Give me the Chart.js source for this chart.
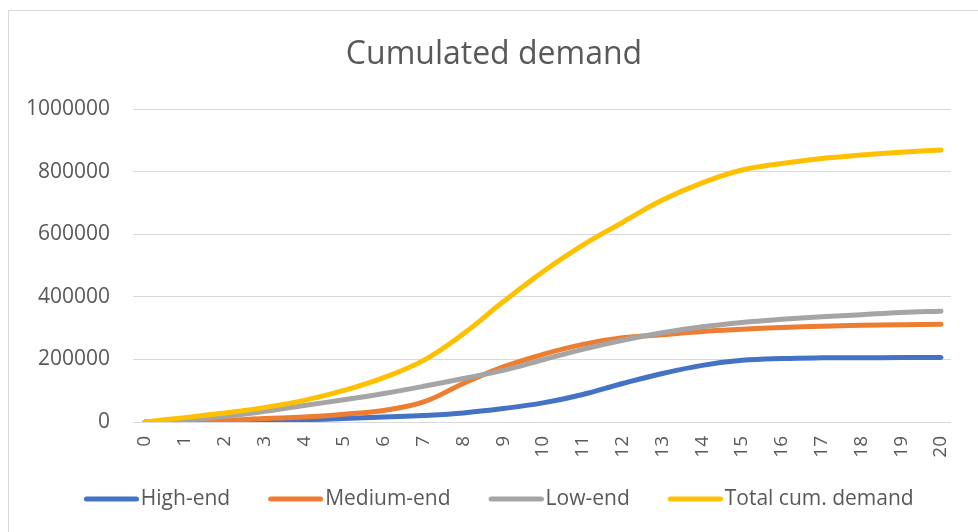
<!DOCTYPE html>
<html>
<head>
<meta charset="utf-8">
<title>Cumulated demand</title>
<script src="https://cdn.jsdelivr.net/npm/chart.js@4.4.1/dist/chart.umd.min.js"></script>
<style>
  body { margin: 0; background: #fff; }
  #frame { position: absolute; left: 8px; top: 10px; width: 990px; height: 540px; border: 1px solid #d9d9d9; }
  #demandChart { position: absolute; left: 0; top: 0; }
</style>
</head>
<body>
<div id="frame"></div>
<canvas id="demandChart" width="978" height="532"></canvas>
<script>
// years since launch (x axis)
const years = [0, 1, 2, 3, 4, 5, 6, 7, 8, 9, 10, 11, 12, 13, 14, 15, 16, 17, 18, 19, 20];

// cumulated units per segment
const highEnd = [0, 1000, 2000, 4000, 7000, 11000, 16000, 21000, 29000, 43000, 61000, 88000, 123000, 155000, 181000, 197000, 203000, 205000, 205000, 206000, 206000];
const mediumEnd = [0, 2000, 5000, 11000, 16000, 25000, 37000, 64000, 123000, 176000, 216000, 248000, 269000, 279000, 289000, 296000, 302000, 306000, 309000, 311000, 312000];
const lowEnd = [0, 7000, 18000, 34000, 53000, 71000, 91000, 114000, 139000, 165000, 199000, 232000, 261000, 285000, 304000, 318000, 328000, 336000, 343000, 350000, 354000];
const totalDemand = [0, 14000, 29000, 46000, 69000, 101000, 142000, 197000, 282000, 384000, 480000, 565000, 638000, 709000, 764000, 805000, 826000, 842000, 853000, 862000, 869000];

const seriesNames = ['High-end', 'Medium-end', 'Low-end', 'Total cum. demand'];
const yTicks = [0, 200000, 400000, 600000, 800000, 1000000];

const textColor = '#595959';
const fontFamily = "'Open Sans', 'DejaVu Sans', sans-serif";

function toPoints(values) {
    return values.map(function(v, i) { return {x: years[i], y: v}; });
}

// legend swatch: a short round-capped stroke, sitting right next to the label text
function makeSwatch(colour) {
    const c = document.createElement('canvas');
    c.width = 73;
    c.height = 6;
    const g = c.getContext('2d');
    g.strokeStyle = colour;
    g.lineWidth = 5;
    g.lineCap = 'round';
    g.beginPath();
    g.moveTo(20.5, 3);
    g.lineTo(70.5, 3);
    g.stroke();
    return c;
}

function makeLine(label, values, colour, order) {
    return {
        label: label,
        data: toPoints(values),
        borderColor: colour,
        backgroundColor: colour,
        borderWidth: 5,
        borderCapStyle: 'round',
        borderJoinStyle: 'round',
        pointRadius: 0,
        pointHoverRadius: 0,
        pointStyle: makeSwatch(colour),
        tension: 0.4,
        fill: false,
        order: order // total is painted last, on top
    };
}

function generateChart() {
    const ctx = document.getElementById('demandChart');

    new Chart(ctx, {
        type: 'line',
        data: {
            datasets: [
                makeLine(seriesNames[0], highEnd, '#4472C4', 4),
                makeLine(seriesNames[1], mediumEnd, '#ED7D31', 3),
                makeLine(seriesNames[2], lowEnd, '#A5A5A5', 2),
                makeLine(seriesNames[3], totalDemand, '#FFC000', 1)
            ]
        },
        options: {
            responsive: false,
            animation: false,
            events: [],
            layout: {
                padding: {top: 14, left: 26, right: 16, bottom: 12.5}
            },
            plugins: {
                title: {
                    display: true,
                    text: 'Cumulated demand',
                    color: textColor,
                    font: {family: fontFamily, size: 32, weight: 'normal'},
                    padding: {top: 22, bottom: 34.6}
                },
                legend: {
                    position: 'bottom',
                    labels: {
                        color: textColor,
                        font: {family: fontFamily, size: 21},
                        usePointStyle: true,
                        pointStyleWidth: 56,
                        padding: 28.5,
                        sort: function(a, b) { return a.datasetIndex - b.datasetIndex; }
                    }
                },
                tooltip: {enabled: false}
            },
            scales: {
                x: {
                    type: 'linear',
                    min: -0.3,
                    max: 20.25,
                    grid: {display: false, drawTicks: false},
                    border: {display: false},
                    afterFit: function(scale) { scale.height = 38; },
                    ticks: {
                        stepSize: 1,
                        includeBounds: false,
                        autoSkip: false,
                        minRotation: 90,
                        maxRotation: 90,
                        padding: 14,
                        color: textColor,
                        font: {family: fontFamily, size: 19},
                        callback: function(value) { return years.indexOf(value) >= 0 ? String(value) : ''; }
                    }
                },
                y: {
                    min: yTicks[0],
                    max: yTicks[yTicks.length - 1],
                    grid: {color: '#D9D9D9', lineWidth: 1, drawTicks: false},
                    border: {display: false},
                    afterFit: function(scale) { scale.width = 107; },
                    ticks: {
                        stepSize: yTicks[1] - yTicks[0],
                        padding: 23,
                        color: textColor,
                        font: {family: fontFamily, size: 21},
                        callback: function(value) { return String(value); }
                    }
                }
            }
        }
    });
}

document.addEventListener('DOMContentLoaded', function() {
    document.fonts.load("21px 'Open Sans'").then(generateChart, generateChart);
});
</script>
</body>
</html>
